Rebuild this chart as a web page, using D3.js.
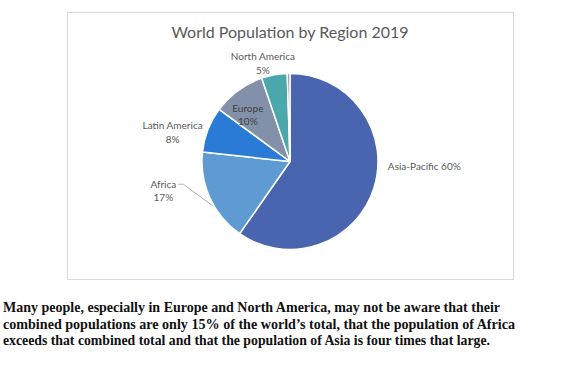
<!DOCTYPE html>
<html><head><meta charset="utf-8">
<script src="https://cdn.jsdelivr.net/npm/d3@7"></script>
<style>
html,body{margin:0;padding:0;background:#fff;}
svg{display:block;}
</style></head>
<body>
<svg id="chart" width="585" height="368"></svg>
<script>
const title = "World Population by Region 2019";
const regions = ["Asia-Pacific", "Africa", "Latin America", "Europe", "North America", "Oceania"];
const shares = [59.7, 17.0, 8.4, 9.7, 4.7, 0.5];
const colors = ["#4a65af", "#5f9bd3", "#2a7bd6", "#8390aa", "#4ba8ad", "#9b91b0"];
const caption = [
  "Many people, especially in Europe and North America, may not be aware that their",
  "combined populations are only 15% of the world\u2019s total, that the population of Africa",
  "exceeds that combined total and that the population of Asia is four times that large."
];

const svg = d3.select("#chart");
const fmt = v => d3.format(".0f")(v) + "%";

// frame
svg.append("rect").attr("x", 67.5).attr("y", 12.5).attr("width", 446).attr("height", 267)
  .attr("fill", "#fff").attr("stroke", "#d9d9d9").attr("stroke-width", 1);

svg.append("text").attr("x", 290).attr("y", 38).attr("text-anchor", "middle")
  .attr("font-family", "Lato, 'Open Sans', sans-serif").attr("font-size", 16)
  .attr("fill", "#595959").text(title);

const cx = 290, cy = 161.5, R = 88;
const data = regions.map((r, i) => ({region: r, value: shares[i], color: colors[i]}));
const pie = d3.pie().value(d => d.value).sort(null);
const arcs = pie(data);
const arc = d3.arc().innerRadius(0).outerRadius(R);

const g = svg.append("g").attr("transform", `translate(${cx},${cy})`);
g.selectAll("path").data(arcs).join("path")
  .attr("d", arc).attr("fill", d => d.data.color)
  .attr("stroke", "#fff").attr("stroke-width", 1.5).attr("stroke-linejoin", "round");

// label placement (angle in degrees clockwise from top, radius)
const place = {
  "Asia-Pacific":  {a: 93, r: 98, anchor: "start", inline: true},
  "Africa":        {a: 257, r: 130, anchor: "middle"},
  "Latin America": {a: 284, r: 121, anchor: "middle"},
  "Europe":        {a: 318, r: 63, anchor: "middle"},
  "North America": {a: 344.6, r: 102, anchor: "middle"}
};
const lab = g.append("g").attr("font-family", "Lato, 'Open Sans', sans-serif")
  .attr("font-size", 10).attr("fill", "#595959");
arcs.forEach(d => {
  const p = place[d.data.region];
  if (!p) return;
  const rad = p.a * Math.PI / 180;
  const x = p.r * Math.sin(rad), y = -p.r * Math.cos(rad);
  const t = lab.append("text").attr("text-anchor", p.anchor)
    .attr("fill", d.data.region === "Europe" ? "#404040" : "#595959");
  if (p.inline) {
    t.attr("x", x).attr("y", y + 3.5).text(d.data.region + " " + fmt(d.value));
  } else {
    const t1 = t.append("tspan").attr("x", x).attr("y", y - 3).text(d.data.region);
    t.append("tspan").attr("x", x).attr("y", y + 10.5).text(fmt(d.value));
    if (d.data.region === "Africa") {
      // leader line from label to slice edge
      const w = t1.node().getComputedTextLength();
      const lx = x + w / 2 + 2, ly = y - 6.5;
      const ang = d.startAngle + (d.endAngle - d.startAngle) * 0.41;
      const ex = (R + 1) * Math.sin(ang), ey = -(R + 1) * Math.cos(ang);
      g.append("polyline")
        .attr("points", `${lx},${ly} ${lx + 5},${ly} ${ex},${ey}`)
        .attr("fill", "none").attr("stroke", "#a6a6a6").attr("stroke-width", 0.9);
    }
  }
});

// caption
const cap = svg.append("g").attr("font-family", "'Liberation Serif', 'DejaVu Serif', serif")
  .attr("font-weight", "bold").attr("font-size", 15.5).attr("fill", "#111");
const widths = [497, 512, 487];
caption.forEach((line, i) => {
  cap.append("text").attr("x", 3).attr("y", 312 + i * 16.5)
    .attr("textLength", widths[i]).attr("lengthAdjust", "spacingAndGlyphs").text(line);
});
</script>
</body></html>
